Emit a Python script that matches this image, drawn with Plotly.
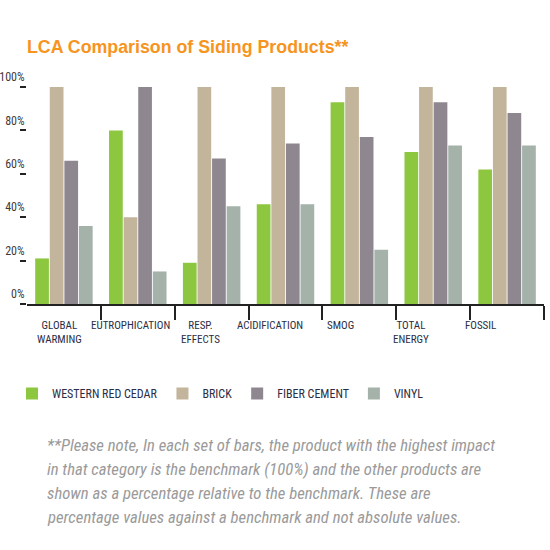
import plotly.graph_objects as go

categories = ["GLOBAL<br>WARMING", "EUTROPHICATION", "RESP.<br>EFFECTS", "ACIDIFICATION",
              "SMOG", "TOTAL<br>ENERGY", "FOSSIL"]
series_names = ["WESTERN RED CEDAR", "BRICK", "FIBER CEMENT", "VINYL"]
western_red_cedar = [21, 80, 19, 46, 93, 70, 62]
brick = [100, 40, 100, 100, 100, 100, 100]
fiber_cement = [66, 100, 67, 74, 77, 93, 88]
vinyl = [36, 15, 45, 46, 25, 73, 73]
colors = ["#8DC63F", "#C3B59B", "#8F8790", "#A4B2AA"]
y_ticks = [0, 20, 40, 60, 80, 100]
y_tick_labels = ["0%", "20%", "40%", "60%", "80%", "100%"]
title = "LCA Comparison of Siding Products**"
note_lines = [
    "**Please note, In each set of bars, the product with the highest impact",
    "in that category is the benchmark (100%) and the other products are",
    "shown as a percentage relative to the benchmark. These are",
    "percentage values against a benchmark and not absolute values.",
]

NARROW = "Liberation Sans Narrow, Arial Narrow, Roboto Condensed, sans-serif"
TEXT = "#2B2D45"

x = list(range(len(categories)))
fig = go.Figure()
for name, vals, col in zip(series_names, [western_red_cedar, brick, fiber_cement, vinyl], colors):
    fig.add_trace(go.Bar(x=x, y=vals, name=name, marker=dict(color=col, line=dict(width=0))))

fig.update_layout(
    width=550, height=550,
    margin=dict(l=27, r=6, t=87, b=246, autoexpand=False),
    paper_bgcolor="white", plot_bgcolor="white",
    barmode="group", bargap=0.21, bargroupgap=0.06,
    title=dict(text="<b>" + title + "</b>", x=27/550, xanchor="left", xref="container",
               y=1 - 47/550, yanchor="middle", yref="container", pad=dict(l=0, r=0, t=0, b=0),
               font=dict(family="Liberation Sans, Arial, sans-serif", size=17.8, color="#F7941D")),
    showlegend=True,
    legend=dict(orientation="h", xref="container", yref="container", x=12/550, xanchor="left",
                y=1 - 379/550, yanchor="top", font=dict(family=NARROW, size=12, color=TEXT),
                traceorder="normal", itemwidth=30),
)
fig.update_xaxes(range=[-0.5, len(categories) - 0.5], tickmode="array",
                 tickvals=[i + 0.5 for i in x], showticklabels=False, automargin=False,
                 ticks="outside", ticklen=14, tickwidth=1.5, tickcolor="#222",
                 showline=True, linecolor="#222", linewidth=1.5, showgrid=False, zeroline=False)
fig.update_yaxes(range=[0, 100], tickmode="array", tickvals=y_ticks, ticktext=y_tick_labels,
                 ticks="outside", ticklen=6, tickwidth=1.5, tickcolor="#222", automargin=False,
                 ticklabelshift=-10, ticklabelstandoff=-7,
                 tickfont=dict(family=NARROW, size=12, color="#3F3A3A"),
                 showline=False, showgrid=False, zeroline=False)

for i, lab in enumerate(categories):
    fig.add_annotation(x=i, y=0, xref="x", yref="y", text=lab, showarrow=False, align="center",
                       xshift=-(4 + 3.7 * i), yshift=-13, yanchor="top", xanchor="center",
                       font=dict(family=NARROW, size=11, color=TEXT))

for k, line in enumerate(note_lines):
    fig.add_annotation(x=(45 - 27) / 517, y=0, xref="paper", yref="paper", text="<i>" + line + "</i>",
                       showarrow=False, xanchor="left", yanchor="middle", align="left",
                       yshift=-(445 - 304) - 24 * k,
                       font=dict(family=NARROW, size=16.7, color="#9A9A9A"))

fig.write_html("out.html", config={"displayModeBar": False},
               post_script="document.body.style.margin='0px';")
